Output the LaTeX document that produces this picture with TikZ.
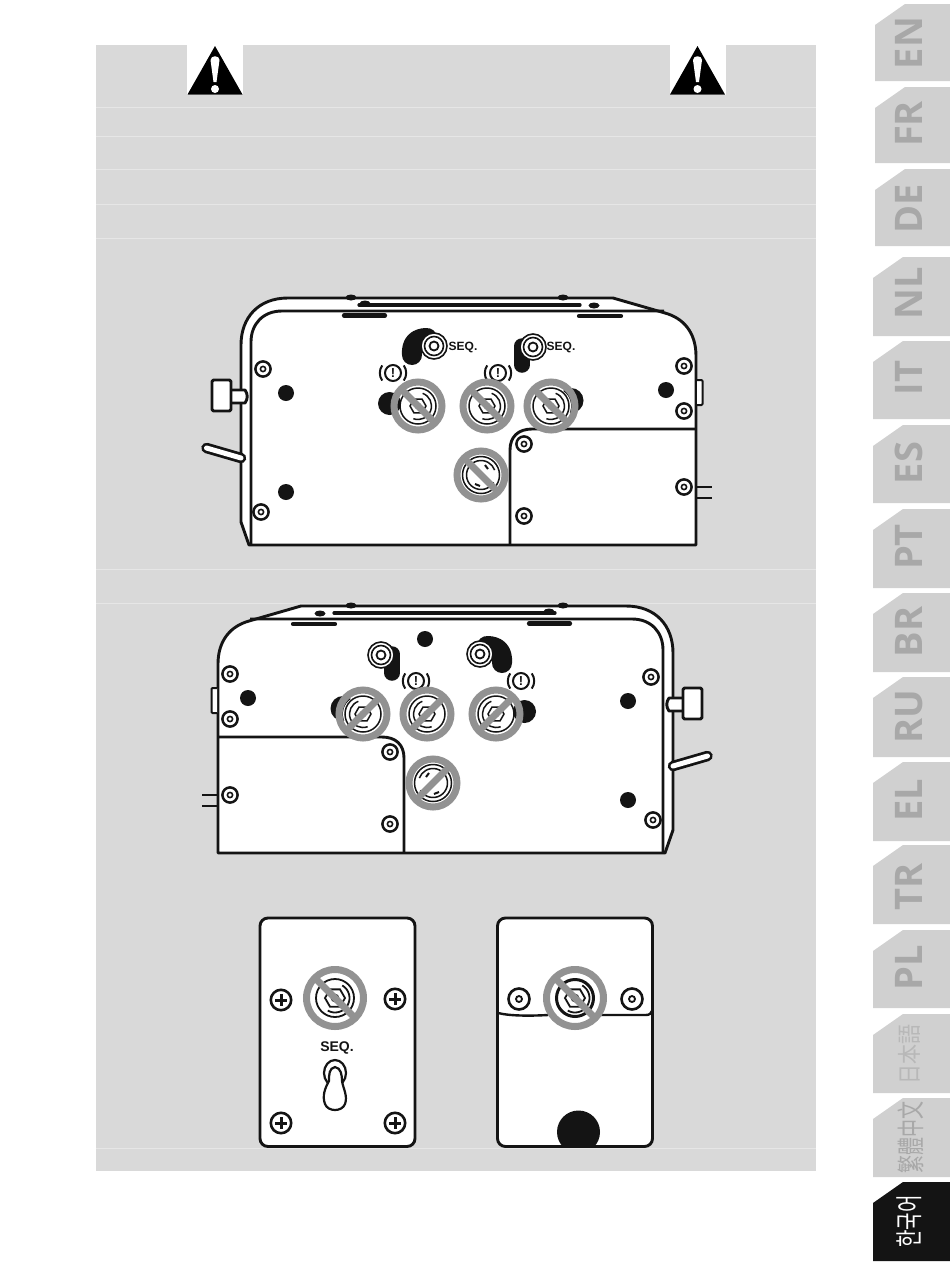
\documentclass[tikz,border=0pt]{standalone}
\usepackage{graphicx}
\usepackage{fontspec}
\setmainfont{Liberation Sans}
\newfontfamily\tabfont{Open Sans}
\newfontfamily\jpfont{Noto Sans CJK JP}
\newfontfamily\tcfont{Noto Sans CJK TC}
\newfontfamily\krfont{Noto Sans CJK KR}
\definecolor{panelgrey}{HTML}{D9D9D9}
\definecolor{ruleline}{HTML}{E6E6E6}
\definecolor{ringgrey}{HTML}{929292}
\definecolor{tabgrey}{HTML}{D0D0D0}
\definecolor{tabtext}{HTML}{A8A8A8}
\definecolor{inkblack}{HTML}{141414}
\tikzset{
  ink/.style={draw=inkblack,line width=2.9pt,line join=round},
  thinink/.style={draw=inkblack,line width=1.5pt},
  ringstyle/.style={draw=ringgrey,line width=7pt},
  tablabel/.style={rotate=90,text=tabtext,inner sep=0pt,font=\tabfont\bfseries\fontsize{38}{38}\selectfont}
}
\newcommand\nosign[3]{%
  \draw[ringstyle] (#1,#2) circle[radius=#3];
  \draw[ringstyle,line cap=butt] ({#1-0.707*#3},{#2-0.707*#3}) -- ({#1+0.707*#3},{#2+0.707*#3});
}
\newcommand\screw[2]{%
  \draw[draw=inkblack,line width=2.5pt,fill=white] (#1,#2) circle[radius=7.6];
  \draw[draw=inkblack,line width=1.6pt,fill=white] (#1,#2) circle[radius=2.6];
}
\newcommand\plusscrew[2]{%
  \draw[draw=inkblack,line width=2.6pt,fill=white] (#1,#2) circle[radius=10.2];
  \draw[draw=inkblack,line width=3pt] ({#1-6},#2) -- ({#1+6},#2) ({#1},{#2-6}) -- ({#1},{#2+6});
}
\newcommand\hexsocket[2]{%
  \begin{scope}[shift={(#1,#2)}]
    \draw[thinink] (0,0) circle[radius=18];
    \draw[thinink] (-70:13.5) arc (-70:110:13.5);
    \draw[thinink] (0:8) -- (60:8) -- (120:8) -- (180:8) -- (240:8) -- (300:8) -- cycle;
    \draw[thinink] (0,0) circle[radius=2.6];
  \end{scope}
}
\newcommand\roundsocket[2]{%
  \begin{scope}[shift={(#1,#2)}]
    \draw[thinink] (0,0) circle[radius=18.5];
    \draw[thinink] (30:14.5) arc (30:300:14.5);
    \draw[thinink] (-60:14.5) arc (-60:-20:14.5);
    \draw[draw=inkblack,line width=2pt] (-6,9) -- (-1,11);
    \draw[draw=inkblack,line width=2pt] (4,-10) -- (7,-6);
  \end{scope}
}
\newcommand\attn[2]{%
  \begin{scope}[shift={(#1,#2)}]
    \draw[draw=inkblack,line width=2pt] (0,0) circle[radius=8];
    \node[inner sep=0pt,text=inkblack,font=\bfseries\fontsize{13}{13}\selectfont] at (0,0) {!};
    \draw[draw=inkblack,line width=2pt] (145:13.2) arc (145:215:13.2);
    \draw[draw=inkblack,line width=2pt] (35:13.2) arc (35:-35:13.2);
  \end{scope}
}
\newcommand\toggle[2]{%
  \begin{scope}[shift={(#1,#2)}]
    \draw[draw=inkblack,line width=1.6pt,fill=white] (0,0) circle[radius=13];
    \draw[draw=inkblack,line width=1.6pt] (0,0) circle[radius=9.5];
    \draw[draw=inkblack,line width=1.8pt] (0,0) circle[radius=4.5];
  \end{scope}
}
\newcommand\console{%
  \draw[ink,fill=white] (249,545) -- (241,522) -- (241,345)
     .. controls (241,318) and (258,298) .. (288,298)
     -- (613,298) -- (665,313)
     .. controls (683,318) and (696,332) .. (696,356)
     -- (696,545) -- cycle;
  \draw[ink] (251,545) -- (251,342) .. controls (251,324) and (263,311) .. (282,311) -- (664,311);
  \draw[draw=inkblack,line width=3.2pt,line cap=round] (359,305) -- (580,305);
  \fill[inkblack] (351,297.5) ellipse[x radius=5.5,y radius=3];
  \fill[inkblack] (365,303.5) ellipse[x radius=5.5,y radius=3];
  \fill[inkblack] (563,297.5) ellipse[x radius=5.5,y radius=3];
  \fill[inkblack] (594,305.5) ellipse[x radius=5.5,y radius=3];
  \draw[draw=inkblack,line width=4.2pt,line cap=round] (344,315.5) -- (385,315.5);
  \draw[draw=inkblack,line width=4.2pt,line cap=round] (579,316) -- (621,316);
  \draw[ink,fill=white] (231,390) -- (245,390) .. controls (248,394) and (248,399) .. (245,403) -- (231,403);
  \draw[ink,fill=white,rounded corners=1.5pt] (212,380) rectangle (231,411);
  \draw[draw=inkblack,line width=10.5pt,line cap=round] (206.5,448) -- (241,458);
  \draw[draw=white,line width=5pt,line cap=round] (206.5,448) -- (241,458);
  \draw[ink,fill=white,line width=2pt,rounded corners=1pt] (697,380) -- (702.5,380) -- (702.5,405) -- (697,405);
  \draw[ink,line width=2.7pt] (697,487) -- (712,487) (697,498) -- (712,498);
  \draw[ink] (510,545) -- (510,450) .. controls (510,437) and (518,429) .. (532,429) -- (696,429);
  \screw{263}{369}\screw{261}{512}\screw{684}{366}\screw{684}{411}
  \screw{524}{444}\screw{684}{487}\screw{524}{516}
  \fill[inkblack] (286,393) circle[radius=8];
  \fill[inkblack] (286,492) circle[radius=8];
  \fill[inkblack] (666,390) circle[radius=8];
  \draw[draw=inkblack,line width=20pt,line cap=round,line join=round] (412,355) .. controls (411,343) and (417,338) .. (427,338);
  \draw[draw=inkblack,line width=15.5pt,line cap=round] (522,346) -- (522,365);
  \toggle{434}{346}\toggle{533}{347}
  \fill[inkblack] (389.5,403.5) circle[radius=11.5];
  \fill[inkblack] (571,400.5) circle[radius=12.5];
  \fill[white] (553,406) circle[radius=18];
  \attn{393}{373}\attn{498}{373}
  \hexsocket{418}{406}\hexsocket{487}{406}\hexsocket{551}{406}
  \roundsocket{481}{475}
  \nosign{418}{406}{24}\nosign{487}{406}{24}\nosign{551}{406}{24}\nosign{481}{475}{24}
}
\begin{document}
\begin{tikzpicture}[x=1pt,y=-1pt]
\useasboundingbox (0,0) rectangle (950,1267);
\fill[white] (0,0) rectangle (950,1267);
\fill[panelgrey] (96,45) rectangle (816,1171);
\foreach \yy in {107,136.5,169.5,204.5,238,569,603,1148}{
  \draw[draw=ruleline,line width=1pt] (96,\yy) -- (816,\yy);
}
\fill[white] (187,45) rectangle (243,95);
\fill[white] (670,45) rectangle (726,95);
\foreach \cx in {215,697.5}{
  \fill[black] (\cx,46) -- ({\cx+27.5},94.5) -- ({\cx-27.5},94.5) -- cycle;
  \fill[white] ({\cx-4.5},60) .. controls ({\cx-4.5},55) and ({\cx+4.5},55) .. ({\cx+4.5},60) -- ({\cx+1.5},82) -- ({\cx-1.5},82) -- cycle;
  \fill[white] (\cx,89) circle[radius=4];
}
\console
\node[inner sep=0pt,text=inkblack,font=\bfseries\fontsize{12}{12}\selectfont] at (463,347) {SEQ.};
\node[inner sep=0pt,text=inkblack,font=\bfseries\fontsize{12}{12}\selectfont] at (561,347) {SEQ.};
\begin{scope}[shift={(914,308)},xscale=-1]
\console
\end{scope}
\fill[inkblack] (425,639) circle[radius=8];
\draw[ink,fill=white,rounded corners=8pt] (260,918) rectangle (415,1146.5);
\plusscrew{281}{1000}\plusscrew{395}{999}\plusscrew{281}{1123}\plusscrew{395}{1123}
\begin{scope}[shift={(335,998)}]
  \draw[thinink,line width=1.8pt] (0,0) circle[radius=19];
  \draw[thinink,line width=1.8pt] (-60:14.5) arc (-60:120:14.5);
  \draw[thinink,line width=1.8pt] (0:10) -- (60:10) -- (120:10) -- (180:10) -- (240:10) -- (300:10) -- cycle;
  \draw[thinink] (0,0) circle[radius=3.5];
\end{scope}
\nosign{335}{998}{28.5}
\node[inner sep=0pt,text=inkblack,font=\bfseries\fontsize{14}{14}\selectfont] at (337,1048) {SEQ.};
\draw[draw=inkblack,line width=2.2pt,fill=white] (335,1073) ellipse[x radius=11,y radius=13];
\draw[draw=inkblack,line width=2.2pt,fill=white] (335,1067) .. controls (329,1068) and (329,1075) .. (329,1081)
  .. controls (325,1088) and (322,1096) .. (325,1104)
  .. controls (328,1112) and (342,1112) .. (345,1104)
  .. controls (348,1096) and (343,1088) .. (342,1081)
  .. controls (342,1075) and (341,1068) .. (335,1067) -- cycle;
\draw[ink,fill=white,rounded corners=8pt] (497.5,918) rectangle (652.5,1146.5);
\draw[ink,line width=2.4pt] (498,1013) .. controls (510,1016) and (530,1016) .. (548,1015);
\draw[ink,line width=2.4pt] (600,1015) -- (646,1015) .. controls (650,1015) and (651,1013) .. (652,1011);
\begin{scope}
  \clip (497,1000) rectangle (653,1146);
  \fill[inkblack] (578.5,1132) circle[radius=21.5];
\end{scope}
\draw[draw=inkblack,line width=2.6pt,fill=white] (519,999) circle[radius=10.5];
\draw[draw=inkblack,line width=1.8pt,fill=white] (519,999) circle[radius=3];
\draw[draw=inkblack,line width=2.6pt,fill=white] (632,999) circle[radius=10.5];
\draw[draw=inkblack,line width=1.8pt,fill=white] (632,999) circle[radius=3];
\begin{scope}[shift={(575,998)}]
  \draw[draw=inkblack,line width=3pt] (0,0) circle[radius=18.5];
  \draw[thinink,line width=1.8pt,fill=white] (-60:14.5) arc (-60:120:14.5);
  \draw[thinink,line width=1.8pt] (0:10) -- (60:10) -- (120:10) -- (180:10) -- (240:10) -- (300:10) -- cycle;
  \draw[thinink] (0,0) circle[radius=3.5];
\end{scope}
\nosign{575}{998}{28.5}
\foreach \tt/\bb/\xl in {4/81/875,87/163/875,169/246/875,257/336/873,341/419/873,425/503/873,509/588/873,593/672/873,677/757/873,762/841/873,845/924/873,930/1008/873,1014/1093/873,1098/1177/873}{
  \fill[tabgrey] (\xl,\bb) -- (\xl,{\tt+21}) -- ({\xl+30},\tt) -- (950,\tt) -- (950,\bb) -- cycle;
}
\fill[inkblack] (873,1261) -- (873,1203) -- (903,1182) -- (950,1182) -- (950,1261) -- cycle;
\node[tablabel] at (909,43) {EN};
\node[tablabel] at (909,124) {FR};
\node[tablabel] at (909,209) {DE};
\node[tablabel] at (909,293) {NL};
\node[tablabel] at (909,378) {IT};
\node[tablabel] at (909,463) {ES};
\node[tablabel] at (909,547) {PT};
\node[tablabel] at (909,632) {BR};
\node[tablabel] at (909,717) {RU};
\node[tablabel] at (909,800) {EL};
\node[tablabel] at (909,887) {TR};
\node[tablabel] at (909,968) {PL};
\node[rotate=90,inner sep=0pt,text=tabtext!60!tabgrey,font=\jpfont\fontsize{20}{20}\selectfont] at (909.5,1054) {\scalebox{1}[1.2]{日本語}};
\node[rotate=90,inner sep=0pt,text=tabtext,font=\tcfont\fontsize{18}{18}\selectfont] at (910.5,1137.5) {\scalebox{1}[1.55]{繁體中文}};
\node[rotate=90,inner sep=0pt,text=white,font=\krfont\fontsize{19}{19}\selectfont] at (909,1221.5) {\scalebox{1}[1.45]{한국어}};
\end{tikzpicture}
\end{document}
